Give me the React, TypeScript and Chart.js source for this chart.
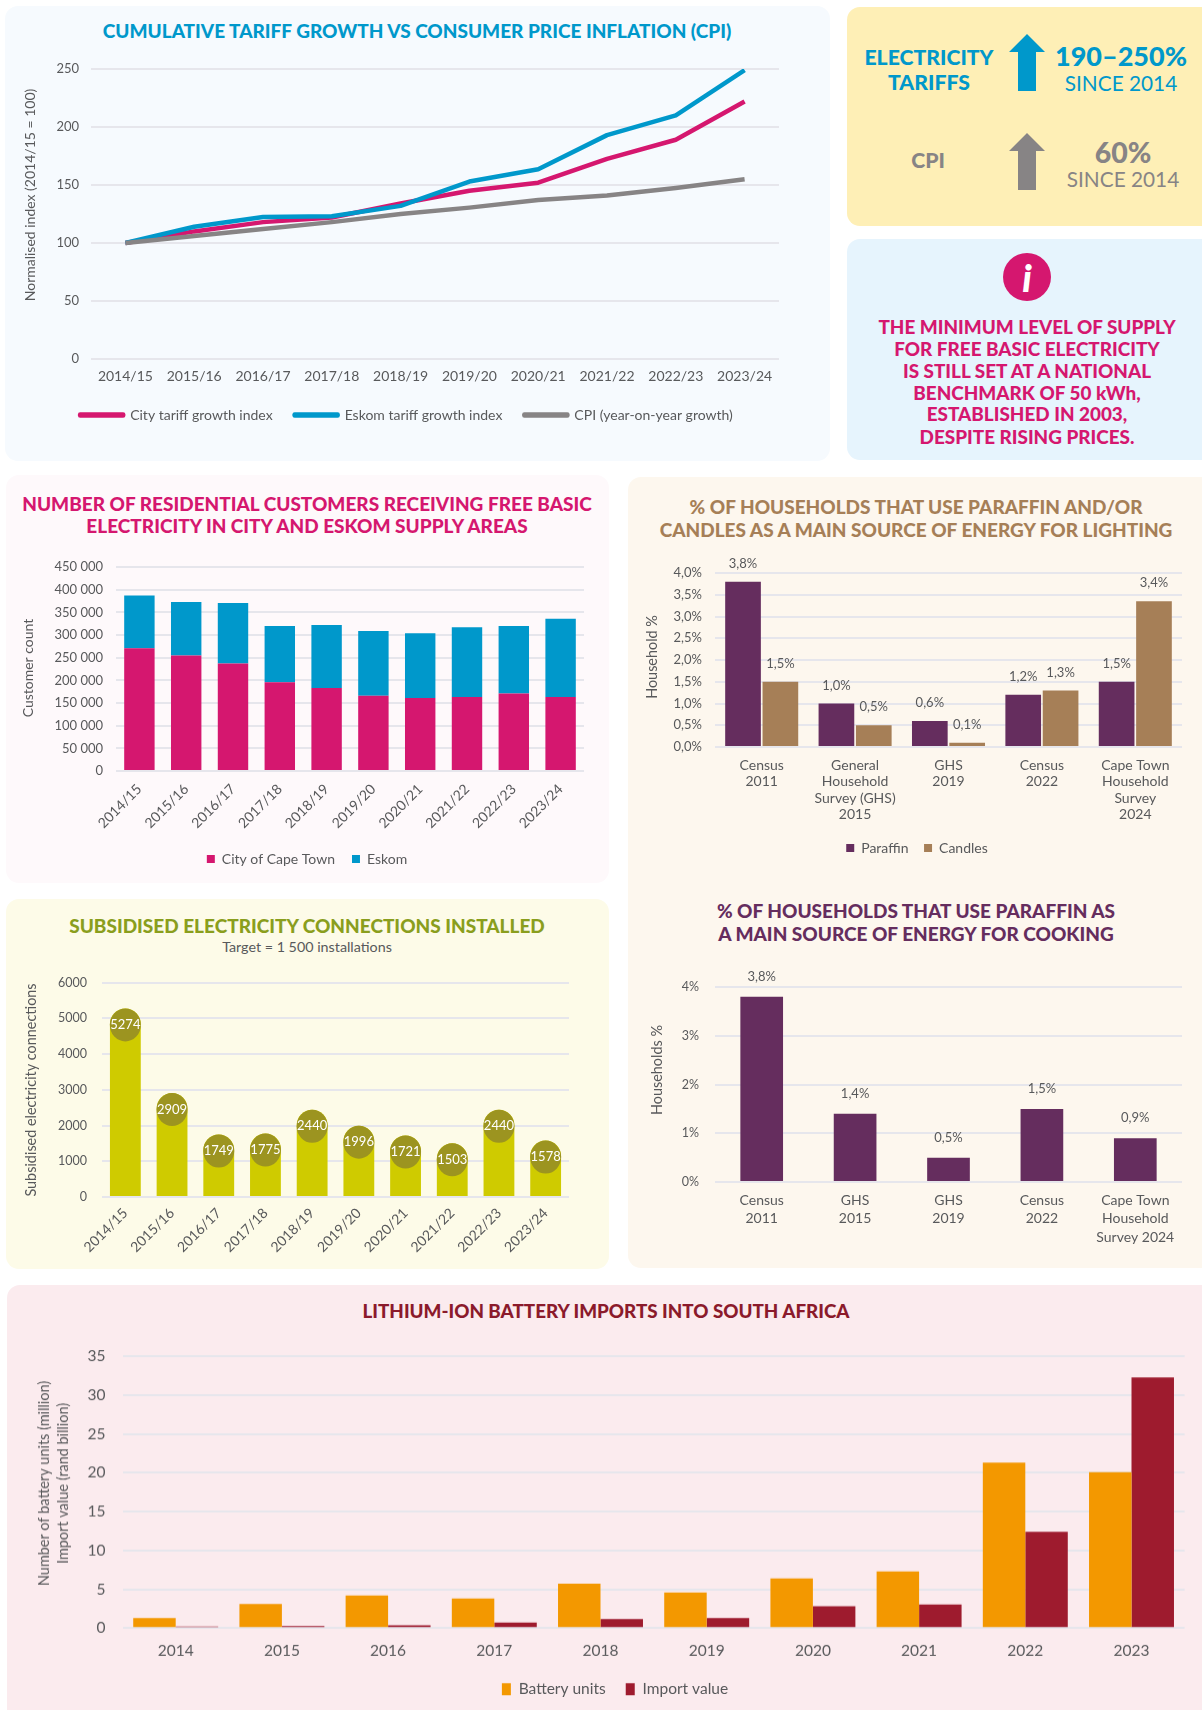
import React, { useEffect, useRef } from "react";
import { Chart, registerables } from "chart.js";

Chart.register(...registerables);

const FONT = "Lato";
const TEXT = "#58595B";
const GRID = "#E6E6EC";

const PINK = "#D5176F";
const BLUE = "#0098CB";
const GREY = "#878485";
const PURPLE = "#652D5E";
const TAN = "#A67F57";
const LIME = "#CFCB00";
const OLIVE = "#9C9420";
const ORANGE = "#F39800";
const CRIMSON = "#9E1B2E";

const fiscalYears = ["2014/15", "2015/16", "2016/17", "2017/18", "2018/19", "2019/20", "2020/21", "2021/22", "2022/23", "2023/24"];

const cityTariff = [100, 110, 118, 122, 134, 145, 152, 172.5, 189, 222];
const eskomTariff = [100, 114, 122.5, 123, 132, 153, 163.5, 193, 210, 249];
const cpiIndex = [100, 106, 112, 118, 125, 130.5, 137, 141, 147.5, 155];

const fbeCity = [271000, 255000, 237000, 196000, 183000, 166000, 161000, 163000, 171000, 163000];
const fbeEskom = [116000, 118000, 133500, 124000, 139000, 143000, 143000, 154000, 149000, 173000];

const connections = [5274, 2909, 1749, 1775, 2440, 1996, 1721, 1503, 2440, 1578];

const lightingLabels = [["Census", "2011"], ["General", "Household", "Survey (GHS)", "2015"], ["GHS", "2019"], ["Census", "2022"], ["Cape Town", "Household", "Survey", "2024"]];
const lightingParaffin = [3.8, 1.0, 0.6, 1.2, 1.5];
const lightingCandles = [1.5, 0.5, 0.1, 1.3, 3.35];
const lightingCandleLabels = ["1,5%", "0,5%", "0,1%", "1,3%", "3,4%"];

const cookingLabels = [["Census", "2011"], ["GHS", "2015"], ["GHS", "2019"], ["Census", "2022"], ["Cape Town", "Household", "Survey 2024"]];
const cookingParaffin = [3.8, 1.4, 0.5, 1.5, 0.9];

const batteryYears = ["2014", "2015", "2016", "2017", "2018", "2019", "2020", "2021", "2022", "2023"];
const batteryUnits = [1.3, 3.1, 4.2, 3.8, 5.7, 4.6, 6.4, 7.3, 21.3, 20.1];
const importValue = [0.2, 0.25, 0.35, 0.7, 1.15, 1.3, 2.8, 3.05, 12.4, 32.3];

const comma = (v: number) => v.toFixed(1).replace(".", ",");
const font = (size: number, weight = 400, lineHeight = 1.2) => ({ family: FONT, size, weight, lineHeight } as any);

type Box = { x: number; y: number; w: number; h: number };
type Plot = { l: number; t: number; r: number; b: number };

function yTitle(ctx: any, lines: string[], cx: number, cy: number, size: number, gap: number) {
  ctx.save();
  ctx.font = `400 ${size}px ${FONT}`;
  ctx.fillStyle = TEXT;
  ctx.textAlign = "center";
  ctx.textBaseline = "middle";
  lines.forEach((line, i) => {
    ctx.save();
    ctx.translate(cx + i * gap, cy);
    ctx.rotate(-Math.PI / 2);
    ctx.fillText(line, 0, 0);
    ctx.restore();
  });
  ctx.restore();
}

function build(box: Box, plot: Plot, legendH: number, spec: any) {
  const { type = "bar", datasets, labels, y, x, legend, draw } = spec;
  const xHeight = box.y + box.h - plot.b - legendH;
  return {
    type,
    data: { labels, datasets },
    plugins: [
      {
        id: "deco",
        afterLayout(chart: any) {
          if (legend && chart.legend) {
            const dx = legend.cx - box.x - (chart.legend.left + chart.legend.right) / 2;
            chart.legend.left += dx;
            chart.legend.right += dx;
          }
        },
        afterDatasetsDraw(chart: any) {
          if (draw) draw(chart, chart.ctx);
        },
      },
    ],
    options: {
      responsive: false,
      animation: false,
      devicePixelRatio: 1,
      layout: { padding: { left: 0, top: plot.t - box.y, right: box.x + box.w - plot.r, bottom: 0 } },
      plugins: {
        tooltip: { enabled: false },
        title: { display: false },
        legend: legend
          ? {
              display: true,
              position: "bottom",
              align: "center",
              labels: {
                color: TEXT,
                font: font(legend.size),
                boxWidth: legend.boxW,
                boxHeight: legend.boxH,
                padding: legend.pad,
                sort: (a: any, b: any) => a.datasetIndex - b.datasetIndex,
              },
            }
          : { display: false },
      },
      scales: {
        x: {
          stacked: !!spec.stacked,
          offset: true,
          grid: { display: false, drawTicks: false },
          border: { display: false },
          afterFit: (s: any) => {
            s.height = xHeight;
          },
          ticks: { autoSkip: false, color: TEXT, maxRotation: 0, minRotation: 0, ...x },
        },
        y: {
          stacked: !!spec.stacked,
          min: 0,
          max: y.max,
          grid: { color: GRID, lineWidth: 2, drawTicks: false },
          border: { display: false },
          afterFit: (s: any) => {
            s.width = plot.l - box.x;
          },
          ticks: { stepSize: y.step, color: TEXT, font: y.font, padding: y.padding, callback: y.format },
        },
      },
    },
  };
}

function ChartBox({ box, plot, legendH = 0, spec }: { box: Box; plot: Plot; legendH?: number; spec: any }) {
  const ref = useRef<HTMLCanvasElement>(null);
  useEffect(() => {
    const chart = new Chart(ref.current as any, build(box, plot, legendH, spec) as any);
    return () => chart.destroy();
  }, []);
  return <canvas ref={ref} width={box.w} height={box.h} style={{ position: "absolute", left: box.x, top: box.y, width: box.w, height: box.h, display: "block" }} />;
}

function Panel({ x, y, w, h, bg }: { x: number; y: number; w: number; h: number; bg: string }) {
  return <div style={{ position: "absolute", left: x, top: y, width: w, height: h, background: bg, borderRadius: 13 }} />;
}

function T({ x, y, size, color, weight = 900, children }: any) {
  return (
    <div
      style={{
        position: "absolute",
        left: x,
        top: y,
        transform: "translate(-50%, -50%)",
        fontFamily: FONT,
        fontSize: size,
        fontWeight: weight,
        color,
        whiteSpace: "nowrap",
        lineHeight: 1,
      }}
    >
      {children}
    </div>
  );
}

function Arrow({ cx, top, color }: { cx: number; top: number; color: string }) {
  return (
    <svg style={{ position: "absolute", left: cx - 18, top, width: 36, height: 57 }} viewBox="0 0 36 57">
      <polygon points="18,0 36,18 27,18 27,57 9,57 9,18 0,18" fill={color} />
    </svg>
  );
}

const lineBase = { borderWidth: 4.5, pointRadius: 0, tension: 0, borderJoinStyle: "round" };

const tariffSpec = {
  type: "line",
  labels: fiscalYears,
  datasets: [
    { label: "City tariff growth index", data: cityTariff, borderColor: PINK, backgroundColor: PINK, order: 2, ...lineBase },
    { label: "Eskom tariff growth index", data: eskomTariff, borderColor: BLUE, backgroundColor: BLUE, order: 1, ...lineBase },
    { label: "CPI (year-on-year growth)", data: cpiIndex, borderColor: GREY, backgroundColor: GREY, order: 0, ...lineBase },
  ],
  y: { max: 250, step: 50, font: font(13), padding: 12 },
  x: { font: font(14), padding: 9 },
  legend: { size: 14, boxW: 43, boxH: 1, pad: 22, cx: 406.5 },
  draw: (_c: any, ctx: any) => yTitle(ctx, ["Normalised index (2014/15 = 100)"], 25.5, 155, 14, 0),
};

const fbeSpec = {
  stacked: true,
  labels: fiscalYears,
  datasets: [
    { label: "City of Cape Town", data: fbeCity, backgroundColor: PINK, barPercentage: 0.65, categoryPercentage: 1 },
    { label: "Eskom", data: fbeEskom, backgroundColor: BLUE, barPercentage: 0.65, categoryPercentage: 1 },
  ],
  y: { max: 450000, step: 50000, font: font(13), padding: 13, format: (v: number) => String(v).replace(/\B(?=(\d{3})+$)/g, " ") },
  x: { font: font(14), maxRotation: 45, minRotation: 45, padding: 10 },
  legend: { size: 14, boxW: 8, boxH: 8, pad: 17, cx: 307 },
  draw: (_c: any, ctx: any) => yTitle(ctx, ["Customer count"], 22.5, 128, 14, 0),
};

const connectionsSpec = {
  labels: fiscalYears,
  datasets: [{ data: connections, backgroundColor: LIME, barPercentage: 0.66, categoryPercentage: 1, borderRadius: 16 }],
  y: { max: 6000, step: 1000, font: font(12.5), padding: 15 },
  x: { font: font(14), maxRotation: 45, minRotation: 45, padding: 8 },
  draw: (chart: any, ctx: any) => {
    yTitle(ctx, ["Subsidised electricity connections"], 25.5, 130, 14.4, 0);
    chart.getDatasetMeta(0).data.forEach((bar: any, i: number) => {
      ctx.save();
      ctx.fillStyle = OLIVE;
      ctx.beginPath();
      ctx.ellipse(bar.x, bar.y + 16.5, 15.5, 16.5, 0, 0, Math.PI * 2);
      ctx.fill();
      ctx.fillStyle = "#FFFFFF";
      ctx.font = `400 13px ${FONT}`;
      ctx.textAlign = "center";
      ctx.textBaseline = "middle";
      ctx.fillText(String(connections[i]), bar.x, bar.y + 16.5);
      ctx.restore();
    });
  },
};

function barLabels(chart: any, ctx: any, index: number, texts: string[], offset: number) {
  chart.getDatasetMeta(index).data.forEach((bar: any, i: number) => {
    ctx.save();
    ctx.fillStyle = TEXT;
    ctx.font = `400 13px ${FONT}`;
    ctx.textAlign = "center";
    ctx.textBaseline = "middle";
    ctx.fillText(texts[i], bar.x, bar.y - offset);
    ctx.restore();
  });
}

const lightingSpec = {
  labels: lightingLabels,
  datasets: [
    { label: "Paraffin", data: lightingParaffin, backgroundColor: PURPLE, barPercentage: 0.955, categoryPercentage: 0.8 },
    { label: "Candles", data: lightingCandles, backgroundColor: TAN, barPercentage: 0.955, categoryPercentage: 0.8 },
  ],
  y: { max: 4, step: 0.5, font: font(13), padding: 13, format: (v: number) => comma(v) + "%" },
  x: { font: font(14, 400, 1.18), padding: 10 },
  legend: { size: 14, boxW: 8, boxH: 8, pad: 15.6, cx: 917 },
  draw: (chart: any, ctx: any) => {
    yTitle(ctx, ["Household %"], 12.5, 117, 14.4, 0);
    barLabels(chart, ctx, 0, lightingParaffin.map((v) => comma(v) + "%"), 18);
    barLabels(chart, ctx, 1, lightingCandleLabels, 18);
  },
};

const cookingSpec = {
  labels: cookingLabels,
  datasets: [{ data: cookingParaffin, backgroundColor: PURPLE, barPercentage: 0.457, categoryPercentage: 1 }],
  y: { max: 4, step: 1, font: font(12.5), padding: 16, format: (v: number) => v + "%" },
  x: { font: font(14, 400, 1.32), padding: 9 },
  draw: (chart: any, ctx: any) => {
    yTitle(ctx, ["Households %"], 17, 120, 14.4, 0);
    barLabels(chart, ctx, 0, cookingParaffin.map((v) => comma(v) + "%"), 20);
  },
};

const batterySpec = {
  labels: batteryYears,
  datasets: [
    { label: "Battery units", data: batteryUnits, backgroundColor: ORANGE, barPercentage: 1, categoryPercentage: 0.8 },
    { label: "Import value", data: importValue, backgroundColor: CRIMSON, barPercentage: 1, categoryPercentage: 0.8 },
  ],
  y: { max: 35, step: 5, font: font(15.5), padding: 17 },
  x: { font: font(15.5), padding: 13 },
  legend: { size: 15.5, boxW: 9, boxH: 12, pad: 20, cx: 615 },
  draw: (_c: any, ctx: any) => yTitle(ctx, ["Number of battery units (million)", "Import value (rand billion)"], 14, 153, 14.4, 19),
};

export default function App() {
  return (
    <div style={{ position: "absolute", left: 0, top: 0, width: 1202, height: 1710, overflow: "hidden", background: "#FFFFFF", fontFamily: FONT }}>
      <Panel x={5} y={6} w={825} h={455} bg="#F6FAFE" />
      <Panel x={847} y={7} w={368} h={219} bg="#FEEFB6" />
      <Panel x={847} y={239} w={368} h={221} bg="#E6F4FD" />
      <Panel x={6} y={475} w={603} h={408} bg="#FEF9FB" />
      <Panel x={628} y={477} w={587} h={791} bg="#FDF7EE" />
      <Panel x={6} y={899} w={603} h={370} bg="#FDFBE8" />
      <Panel x={7} y={1285} w={1208} h={440} bg="#FBEBEE" />

      <T x={417} y={30} size={19} color={BLUE}>CUMULATIVE TARIFF GROWTH VS CONSUMER PRICE INFLATION (CPI)</T>
      <ChartBox box={{ x: 5, y: 40, w: 803, h: 392 }} plot={{ l: 91, t: 69, r: 779, b: 359 }} legendH={46} spec={tariffSpec} />

      <T x={929} y={58} size={21.2} color={BLUE}>ELECTRICITY</T>
      <T x={929} y={83} size={21.2} color={BLUE}>TARIFFS</T>
      <Arrow cx={1027} top={34} color={BLUE} />
      <T x={1121} y={55} size={27} color={BLUE}>190–250%</T>
      <T x={1121} y={83} size={20.8} weight={400} color={BLUE}>SINCE 2014</T>
      <T x={928} y={161} size={21.2} color={GREY}>CPI</T>
      <Arrow cx={1027} top={133} color={GREY} />
      <T x={1123} y={152} size={28.5} color={GREY}>60%</T>
      <T x={1123} y={179} size={20.8} weight={400} color={GREY}>SINCE 2014</T>

      <div style={{ position: "absolute", left: 1003, top: 253, width: 48, height: 48, borderRadius: "50%", background: PINK }} />
      <T x={1027} y={277} size={38} color="#FFFFFF"><span style={{ fontStyle: "italic" }}>i</span></T>
      <T x={1027} y={327} size={18.9} color={PINK}>THE MINIMUM LEVEL OF SUPPLY</T>
      <T x={1027} y={349} size={18.9} color={PINK}>FOR FREE BASIC ELECTRICITY</T>
      <T x={1027} y={371} size={18.9} color={PINK}>IS STILL SET AT A NATIONAL</T>
      <T x={1027} y={393} size={18.9} color={PINK}>BENCHMARK OF 50 kWh,</T>
      <T x={1027} y={414} size={18.9} color={PINK}>ESTABLISHED IN 2003,</T>
      <T x={1027} y={437} size={18.9} color={PINK}>DESPITE RISING PRICES.</T>

      <T x={307} y={503} size={19} color={PINK}>NUMBER OF RESIDENTIAL CUSTOMERS RECEIVING FREE BASIC</T>
      <T x={307} y={525} size={19} color={PINK}>ELECTRICITY IN CITY AND ESKOM SUPPLY AREAS</T>
      <ChartBox box={{ x: 6, y: 540, w: 602, h: 336 }} plot={{ l: 116, t: 567, r: 584, b: 771 }} legendH={41} spec={fbeSpec} />

      <T x={916} y={506} size={19} color={TAN}>% OF HOUSEHOLDS THAT USE PARAFFIN AND/OR</T>
      <T x={916} y={529} size={19} color={TAN}>CANDLES AS A MAIN SOURCE OF ENERGY FOR LIGHTING</T>
      <ChartBox box={{ x: 640, y: 540, w: 554, h: 325 }} plot={{ l: 715, t: 573, r: 1182, b: 747 }} legendH={39.6} spec={lightingSpec} />

      <T x={307} y={925} size={19} color="#8A9E1D">SUBSIDISED ELECTRICITY CONNECTIONS INSTALLED</T>
      <T x={307} y={947} size={14.3} weight={400} color={TEXT}>Target = 1 500 installations</T>
      <ChartBox box={{ x: 6, y: 960, w: 603, h: 309 }} plot={{ l: 102, t: 980, r: 569, b: 1197 }} spec={connectionsSpec} />

      <T x={916} y={910} size={19} color={PURPLE}>% OF HOUSEHOLDS THAT USE PARAFFIN AS</T>
      <T x={916} y={933} size={19} color={PURPLE}>A MAIN SOURCE OF ENERGY FOR COOKING</T>
      <ChartBox box={{ x: 640, y: 950, w: 554, h: 318 }} plot={{ l: 715, t: 987, r: 1182, b: 1182 }} spec={cookingSpec} />

      <T x={606} y={1311} size={18.8} color="#8B1A2B">LITHIUM-ION BATTERY IMPORTS INTO SOUTH AFRICA</T>
      <ChartBox box={{ x: 30, y: 1330, w: 1170, h: 376.75 }} plot={{ l: 122.6, t: 1346, r: 1184.6, b: 1628 }} legendH={45.5} spec={batterySpec} />
    </div>
  );
}
